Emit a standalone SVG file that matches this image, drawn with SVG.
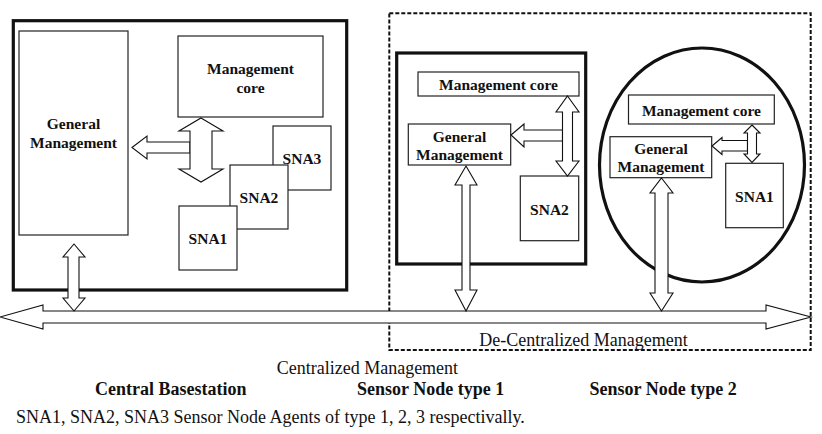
<svg xmlns="http://www.w3.org/2000/svg" width="822" height="434" viewBox="0 0 822 434">
<style>
  .thick { fill: none; stroke: #111; stroke-width: 3.2; }
  .box { fill: #fff; stroke: #222; stroke-width: 1.2; }
  .arrow { fill: #fff; stroke: #111; stroke-width: 1.1; stroke-linejoin: miter; }
  .dash { fill: none; stroke: #111; stroke-width: 2; stroke-dasharray: 4 2; }
  .b { font-family: "Liberation Serif", "Times New Roman", serif; font-weight: bold; font-size: 15.5px; fill: #111; text-anchor: middle; }
  .r { font-family: "Liberation Serif", "Times New Roman", serif; font-size: 18px; fill: #111; }
  .rb { font-family: "Liberation Serif", "Times New Roman", serif; font-weight: bold; font-size: 18px; fill: #111; }
</style>
<rect width="822" height="434" fill="#fff"/>

<!-- containers -->
<g id="central-basestation">
  <rect class="thick" x="13.3" y="20.7" width="333.4" height="269.3"/>
</g>
<g id="decentralized-region">
  <rect class="dash" x="389.3" y="13.3" width="421.4" height="336.7"/>
</g>
<g id="sensor-node-type1">
  <rect class="thick" x="396.7" y="53" width="189" height="211"/>
</g>
<g id="sensor-node-type2">
  <ellipse class="thick" cx="702" cy="165" rx="102.5" ry="117"/>
</g>

<!-- Central Basestation nodes -->
<g id="cb-general-management">
  <rect class="box" x="19" y="31" width="109" height="204"/>
  <text class="b" x="73.5" y="129">General</text>
  <text class="b" x="73.5" y="147.5">Management</text>
</g>
<g id="cb-management-core">
  <rect class="box" x="178" y="36" width="145" height="81"/>
  <text class="b" x="250.5" y="74">Management</text>
  <text class="b" x="250.5" y="92.5">core</text>
</g>
<g id="cb-sna3">
  <rect class="box" x="273" y="126" width="58" height="64"/>
  <text class="b" x="302" y="163.5">SNA3</text>
</g>
<g id="cb-sna2">
  <rect class="box" x="230" y="165" width="58" height="64"/>
  <text class="b" x="259" y="203">SNA2</text>
</g>
<g id="cb-sna1">
  <rect class="box" x="179" y="206" width="58" height="64"/>
  <text class="b" x="208" y="243.7">SNA1</text>
</g>

<!-- Sensor Node type 1 nodes -->
<g id="sn1-management-core">
  <rect class="box" x="418" y="72" width="161" height="24"/>
  <text class="b" x="498.5" y="90">Management core</text>
</g>
<g id="sn1-general-management">
  <rect class="box" x="408.3" y="124" width="102.4" height="41"/>
  <text class="b" x="459.5" y="141.5">General</text>
  <text class="b" x="459.5" y="159.8">Management</text>
</g>
<g id="sn1-sna2">
  <rect class="box" x="520.3" y="176" width="58.4" height="64.7"/>
  <text class="b" x="549.5" y="215">SNA2</text>
</g>

<!-- Sensor Node type 2 nodes -->
<g id="sn2-management-core">
  <rect class="box" x="628.5" y="95" width="145.8" height="29"/>
  <text class="b" x="701.4" y="116">Management core</text>
</g>
<g id="sn2-general-management">
  <rect class="box" x="610" y="136.7" width="101.7" height="41"/>
  <text class="b" x="661" y="154">General</text>
  <text class="b" x="661" y="172">Management</text>
</g>
<g id="sn2-sna1">
  <rect class="box" x="725.7" y="163.3" width="57.6" height="64.4"/>
  <text class="b" x="754.5" y="201.8">SNA1</text>
</g>

<!-- connectors (block arrows) -->
<g id="connectors">
  <!-- bus -->
  <polygon class="arrow" points="0,317 43,305 43,311 766,311 766,305 811,317 766,329 766,323 43,323 43,329"/>
  <!-- central basestation -->
  <polygon class="arrow" points="132,147.5 147,136 147,142 190,142 190,153 147,153 147,159"/>
  <polygon class="arrow" points="201,118 223,131 212,131 212,169 223,169 201,182 179,169 190,169 190,131 179,131"/>
  <polygon class="arrow" points="74,244 85,257 79,257 79,298 85,298 74,311 63,298 68,298 68,257 63,257"/>
  <!-- sensor node type 1 -->
  <polygon class="arrow" points="511,135 524,124 524,130 562.5,130 562.5,141 524,141 524,147"/>
  <polygon class="arrow" points="567.5,96 579,112 572.5,112 572.5,161 579,161 567.5,176 556,161 562.5,161 562.5,112 556,112"/>
  <polygon class="arrow" points="466,166 477,185 470,185 470,290 477,290 466,311 455,290 462,290 462,185 455,185"/>
  <!-- sensor node type 2 -->
  <polygon class="arrow" points="712,146 722,137.5 722,140.5 747.5,140.5 747.5,151 722,151 722,154.5"/>
  <polygon class="arrow" points="752,125 760,133 756.5,133 756.5,154 760,154 752,162.5 744,154 747.5,154 747.5,133 744,133"/>
  <polygon class="arrow" points="661.5,178 673,193 668,193 668,293 673,293 661.5,311 650,293 655,293 655,193 650,193"/>
</g>

<!-- labels -->
<g id="labels">
  <text class="r" x="479.3" y="346">De-Centralized Management</text>
  <text class="r" x="276.7" y="374">Centralized Management</text>
  <text class="rb" x="95" y="395">Central Basestation</text>
  <text class="rb" x="357" y="395">Sensor Node type 1</text>
  <text class="rb" x="589.5" y="395">Sensor Node type 2</text>
  <text class="r" x="16" y="423">SNA1, SNA2, SNA3 Sensor Node Agents of type 1, 2, 3 respectivally.</text>
</g>
</svg>
